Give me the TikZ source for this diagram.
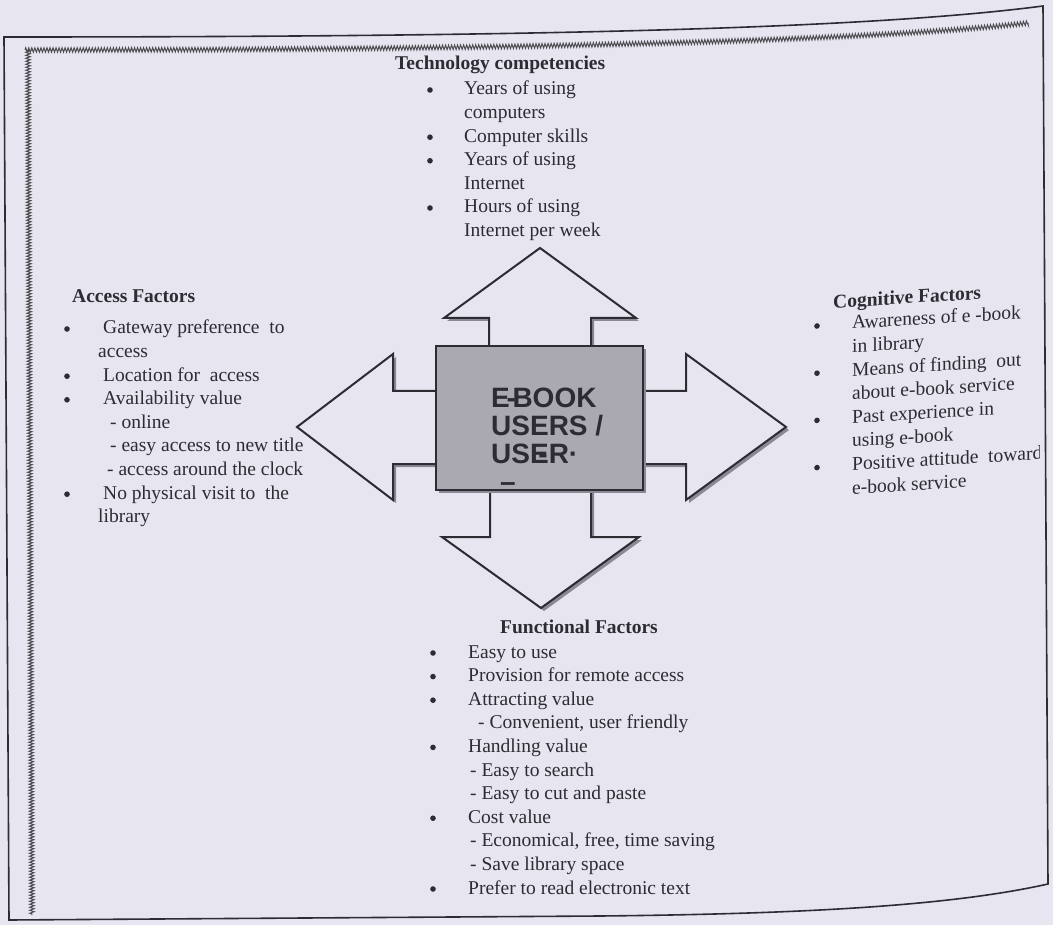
\documentclass[tikz,border=0pt]{standalone}
\usepackage{fontspec}
\setmainfont{Liberation Serif}
\newfontfamily\boxfont{Liberation Sans}
\usetikzlibrary{shadows,decorations.pathmorphing}
\definecolor{paper}{RGB}{231,229,240}
\definecolor{ink}{RGB}{44,44,50}
\definecolor{boxgray}{RGB}{170,169,178}
\definecolor{shade}{RGB}{138,137,148}
\newcommand{\listsize}{\fontsize{19.5pt}{23.6pt}\selectfont}
\newcommand{\boxsize}{\fontsize{28pt}{28pt}\selectfont}

\begin{document}
\begin{tikzpicture}[x=1pt,y=-1pt,line join=miter,
	listtext/.style={anchor=base west,inner sep=0pt,text=ink,font=\listsize},
	headtext/.style={anchor=base west,inner sep=0pt,text=ink,font=\listsize\bfseries},
	blockarrow/.style={draw=ink,line width=2pt,fill=paper,drop shadow={shadow xshift=3pt,shadow yshift=-3pt,fill=shade,opacity=1}},
	userbox/.style={draw=ink,line width=1.8pt,fill=boxgray,minimum width=207pt,minimum height=144pt,inner sep=0pt,drop shadow={shadow xshift=3pt,shadow yshift=-3pt,fill=shade,opacity=1}},
	boxlabel/.style={anchor=base west,inner sep=0pt,text=ink,font=\boxfont\bfseries\boxsize},
	trim/.style={draw=ink!85,line width=1pt,decorate,decoration={zigzag,segment length=3pt,amplitude=2.2pt}},
	pageframe/.style={draw=ink,line width=1.6pt}]
	\useasboundingbox (0,0) rectangle (1053,925);
	\fill[paper] (0,0) rectangle (1053,925);
	%--- page frame and border strip ---
	\draw[pageframe] (4,37) .. controls (500,37) and (860,30) .. (1043,6) -- (1048,884)
		.. controls (950,906) and (800,914) .. (600,916) -- (9,920) -- cycle;
	\draw[trim] (25,50) .. controls (500,50) and (860,42) .. (1028,23);
	\draw[trim] (28,50) -- (32,915);

	%--- block arrows (drawn before the box) ---
	\draw[blockarrow] (489,360) -- (489,318) -- (444,318) -- (540,248) -- (636,318) -- (591,318) -- (591,360) -- cycle;
	\draw[blockarrow] (450,391) -- (393,391) -- (393,354) -- (297,427) -- (393,500) -- (393,464) -- (450,464) -- cycle;
	\draw[blockarrow] (630,391) -- (686,391) -- (686,354) -- (786,427) -- (686,500) -- (686,464) -- (630,464) -- cycle;
	\draw[blockarrow] (490,480) -- (490,537) -- (442,537) -- (541,608) -- (639,537) -- (591,537) -- (591,480) -- cycle;

	%--- centre box ---
	\node[userbox] (box) at (539.5,418) {};
	\node[boxlabel] (boxtext) at (491,407) {\begin{tabular}[t]{@{}l@{}}
		E\kern-0.12em-\kern-0.12em BOOK\\
		USERS /\\
		US\rlap{\kern0.3em-}ER\textperiodcentered\\
		\hspace{9pt}\textendash
	\end{tabular}};

	%--- Technology competencies ---
	\node[headtext] (techhead) at (395,70) {Technology competencies};
	\node[listtext] (techlist) at (464,95) {\begin{tabular}[t]{@{}l@{}}
		Years of using\\ computers\\ Computer skills\\ Years of using\\ Internet\\ Hours of using\\ Internet per week
	\end{tabular}};
	\foreach \k in {0,2,3,5}
		\fill[ink] (430,95+23.6*\k-5) circle (2.8pt);

	%--- Access Factors ---
	\node[headtext] (accesshead) at (72,303) {Access Factors};
	\node[listtext] (accesslist) at (98,334) {\begin{tabular}[t]{@{}l@{}}
		\hspace{5pt}Gateway preference\ \ to\\
		access\\
		\hspace{5pt}Location for\ \ access\\
		\hspace{5pt}Availability value\\
		\hspace{12pt}- online\\
		\hspace{12pt}- easy access to new title\\
		\hspace{9pt}- access around the clock\\
		\hspace{5pt}No physical visit to\ \ the\\
		library
	\end{tabular}};
	\foreach \k in {0,2,3,7}
		\fill[ink] (67,334+23.6*\k-5) circle (2.8pt);

	%--- Cognitive Factors (sheared like the scan, cut by the frame) ---
	\begin{scope}
		\clip (0,0) rectangle (1039,925);
		\begin{scope}[shift={(817,333)},yslant=0.06,shift={(-817,-333)},transform shape]
			\node[headtext] (coghead) at (833,309) {Cognitive Factors};
			\node[listtext] (coglist) at (852,331) {\begin{tabular}[t]{@{}l@{}}
				Awareness of e -book\\ in library\\ Means of finding\ \ out\\ about e-book service\\
				Past experience in\\ using e-book\\ Positive attitude\ \ toward\\ e-book service
			\end{tabular}};
			\foreach \k in {0,2,4,6}
				\fill[ink] (817,331+23.6*\k-5) circle (2.8pt);
		\end{scope}
	\end{scope}

	%--- Functional Factors ---
	\node[headtext] (funchead) at (500,633) {Functional Factors};
	\node[listtext] (funclist) at (468,658) {\begin{tabular}[t]{@{}l@{}}
		Easy to use\\ Provision for remote access\\ Attracting value\\
		\hspace{10pt}- Convenient, user friendly\\
		Handling value\\
		\hspace{2pt}- Easy to search\\
		\hspace{2pt}- Easy to cut and paste\\
		Cost value\\
		\hspace{2pt}- Economical, free, time saving\\
		\hspace{2pt}- Save library space\\
		Prefer to read electronic text
	\end{tabular}};
	\foreach \k in {0,1,2,4,7,10}
		\fill[ink] (433,658+23.6*\k-5) circle (2.8pt);
\end{tikzpicture}
\end{document}
